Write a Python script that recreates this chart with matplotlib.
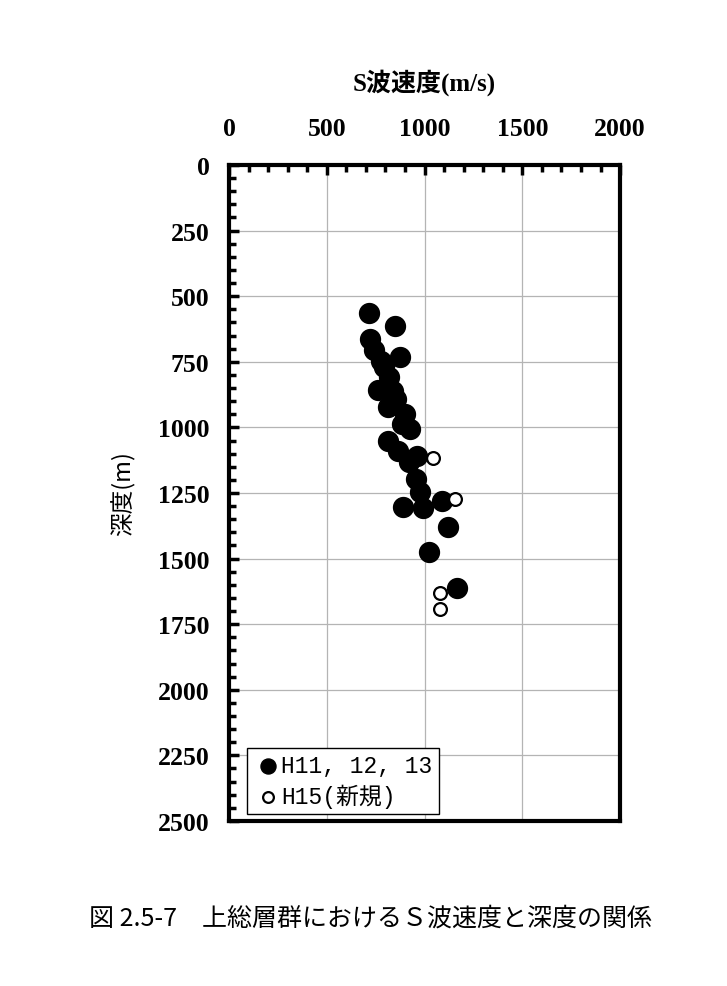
import matplotlib
matplotlib.use('Agg')
import matplotlib.pyplot as plt
from matplotlib.ticker import MultipleLocator

# S-wave velocity (m/s) and depth (m)
vel_old = [716, 850, 722, 742, 875, 778, 793, 819, 763, 839, 855, 814, 901,
           885, 926, 814, 865, 962, 921, 957, 977, 890, 993, 1090, 1121, 1024, 1167]
dep_old = [564, 614, 663, 705, 732, 747, 770, 808, 857, 861, 892, 922, 949,
           987, 1006, 1052, 1090, 1109, 1132, 1197, 1246, 1303, 1307, 1280, 1380, 1475, 1612]
vel_new = [1044, 1157, 1080, 1080]
dep_new = [1117, 1273, 1631, 1692]

lbl_old = 'H11, 12, 13'
lbl_new = 'H15(新規)'
x_title = 'S波速度(m/s)'
y_title = '深度(m)'
caption = '図 2.5-7　上総層群におけるＳ波速度と深度の関係'

serif_b = ['Liberation Serif', 'Noto Sans CJK JP']
cjk = ['Noto Sans CJK JP', 'DejaVu Sans']
mono = ['Liberation Mono', 'Noto Sans CJK JP']

fig = plt.figure(figsize=(7.27, 9.87), dpi=100)
ax = fig.add_axes([0.315, 0.1672, 0.538, 0.6646])

ax.scatter(vel_old, dep_old, s=205, c='black', edgecolors='black', label=lbl_old, zorder=3)
ax.scatter(vel_new, dep_new, s=85, facecolors='white', edgecolors='black',
           linewidths=1.6, label=lbl_new, zorder=4)

ax.set_xlim(0, 2000)
ax.set_ylim(2500, 0)
ax.xaxis.set_major_locator(MultipleLocator(500))
ax.xaxis.set_minor_locator(MultipleLocator(100))
ax.yaxis.set_major_locator(MultipleLocator(250))
ax.yaxis.set_minor_locator(MultipleLocator(50))
ax.xaxis.tick_top()
ax.xaxis.set_label_position('top')
ax.tick_params(which='both', direction='in', width=2.5)
ax.tick_params(which='major', length=7)
ax.tick_params(which='minor', length=5)
ax.tick_params(axis='x', which='both', top=True, bottom=False, pad=18)
ax.tick_params(axis='y', which='both', left=True, right=False, pad=14)
ax.grid(True, which='major', color='#b4b4b4', linewidth=0.9)
ax.set_axisbelow(True)
for sp in ax.spines.values():
    sp.set_linewidth(3)

for t in ax.get_xticklabels() + ax.get_yticklabels():
    t.set_fontfamily(serif_b)
    t.set_fontweight('bold')
    t.set_fontsize(18.5)

ax.set_xlabel(x_title, family=serif_b, fontweight='bold', fontsize=18, labelpad=20)
ax.set_ylabel(y_title, family=cjk, fontsize=17, labelpad=16)

leg = ax.legend(loc='lower left', bbox_to_anchor=(0.046, 0.010), prop={'family': mono, 'size': 16.5},
                frameon=True, fancybox=False, edgecolor='black', framealpha=1,
                handletextpad=0.0, borderpad=0.3, labelspacing=0.25, handlelength=1.2,
                borderaxespad=0)
leg.get_frame().set_linewidth(1.0)
leg.legend_handles[0].set_sizes([117])
leg.legend_handles[1].set_sizes([60])

fig.text(0.51, 0.069, caption, ha='center', va='center', family=cjk, fontsize=18)

fig.savefig('out.png', dpi=100)
